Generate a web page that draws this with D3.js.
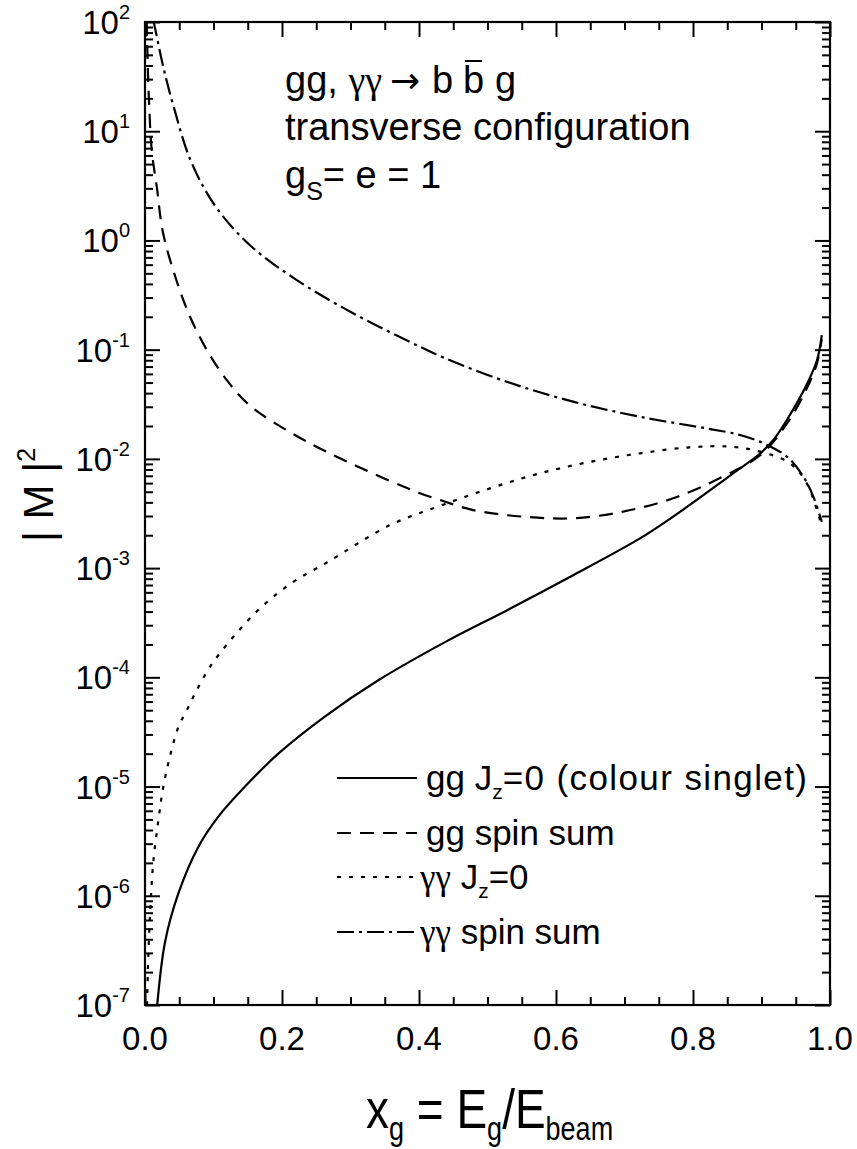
<!DOCTYPE html>
<html>
<head>
<meta charset="utf-8">
<script src="https://cdn.jsdelivr.net/npm/d3@7"></script>
<style>
  body { margin: 0; background: #fff; }
  text { font-family: "Liberation Sans", Arial, sans-serif; fill: #000; }
  .greek { font-family: "Liberation Serif", "DejaVu Serif", serif; }
  .arrow { font-family: "DejaVu Sans", sans-serif; }
</style>
</head>
<body>
<svg class="chart"></svg>
<script>
// |M|^2 against x_g (x, |M|^2)
var ggJz0 = [[0.0165, 8e-8], [0.029, 3.7e-7], [0.0487, 1.05e-6], [0.0778, 2.8e-6], [0.107, 5.3e-6],
             [0.146, 1.0e-5], [0.1946, 2.0e-5], [0.263, 4.4e-5], [0.3406, 9.4e-5], [0.438, 2.1e-4],
             [0.528, 4.1e-4], [0.625, 8.6e-4], [0.7226, 1.87e-3], [0.771, 2.96e-3], [0.82, 4.9e-3],
             [0.8589, 7.4e-3], [0.898, 0.0112], [0.9173, 0.0149], [0.937, 0.0227], [0.966, 0.048],
             [0.981, 0.08], [0.988, 0.136]]
var ggSum = [[0.0025, 100], [0.004, 40], [0.006, 18], [0.0098, 6.7], [0.0175, 3.0], [0.026, 1.2],
             [0.046, 0.43], [0.0666, 0.195], [0.09, 0.1], [0.12, 0.052], [0.1536, 0.0306],
             [0.2253, 0.0157], [0.307, 0.0087], [0.3994, 0.0049], [0.4307, 0.0042], [0.479, 0.0034],
             [0.552, 0.00296], [0.625, 0.00286], [0.698, 0.00329], [0.771, 0.00436], [0.844, 0.0069],
             [0.898, 0.0108], [0.937, 0.021], [0.966, 0.044], [0.981, 0.075], [0.988, 0.125]]
var aaJz0 = [[0.003, 1e-7], [0.005, 3e-7], [0.008, 8e-7], [0.012, 2e-6], [0.0195, 4.9e-6],
             [0.0268, 1e-5], [0.0365, 1.9e-5], [0.0487, 3.5e-5], [0.061, 5e-5], [0.073, 7.1e-5],
             [0.095, 1.25e-4], [0.129, 2.35e-4], [0.17, 4.4e-4], [0.214, 7.3e-4], [0.265, 1.12e-3],
             [0.358, 2.48e-3], [0.43, 3.7e-3], [0.5036, 5.37e-3], [0.5766, 7.38e-3], [0.65, 9.4e-3],
             [0.7226, 0.01125], [0.7956, 0.01277], [0.854, 0.01295], [0.898, 0.01164],
             [0.9416, 0.0091], [0.966, 0.006], [0.9854, 0.00275]]
var aaSum = [[0.012, 105], [0.0153, 84], [0.027, 38], [0.041, 17.5], [0.0666, 5.4], [0.1025, 2.07],
             [0.1536, 0.9], [0.22, 0.44], [0.307, 0.21], [0.389, 0.116], [0.435, 0.085],
             [0.528, 0.0509], [0.625, 0.0334], [0.7226, 0.0243], [0.82, 0.019], [0.8686, 0.01655],
             [0.9027, 0.0139], [0.937, 0.0105], [0.961, 0.0069], [0.9757, 0.0045], [0.988, 0.00266]]

var xMajor = [0, 0.2, 0.4, 0.6, 0.8, 1.0]
var xLabels = ["0.0", "0.2", "0.4", "0.6", "0.8", "1.0"]
var yDecades = [-7, -6, -5, -4, -3, -2, -1, 0, 1, 2]

var series = [
    {data: ggJz0, dash: null,        label: ["gg J", "z", "=0 (colour singlet)"]},
    {data: ggSum, dash: "14,9",      label: ["gg spin sum"]},
    {data: aaJz0, dash: "4,8",       label: ["γγ", " J", "z", "=0"]},
    {data: aaSum, dash: "17,5,3,5",  label: ["γγ", " spin sum"]}
]

var margin = {left: 145, top: 22, right: 27, bottom: 144}
var width = 857 - margin.left - margin.right
var height = 1149 - margin.top - margin.bottom

var x = d3.scaleLinear().domain([0, 1]).range([0, width])
var y = d3.scaleLog().domain([1e-7, 1e2]).range([height, 0])

var xMinor = d3.range(0, 21).map(function(i) { return i * 0.05 })
                .filter(function(v, i) { return i % 4 != 0 })
var yMinor = []
yDecades.slice(0, -1).forEach(function(d) {
    for (var k = 2; k <= 9; k++) yMinor.push(k * Math.pow(10, d))
})
var yMajor = yDecades.map(function(d) { return Math.pow(10, d) })

var svg = d3.select(".chart")
            .attr("width", 857)
            .attr("height", 1149)

var g = svg.append("g")
           .attr("transform", "translate(" + margin.left + "," + margin.top + ")")

svg.append("defs").append("clipPath").attr("id", "plot")
   .append("rect").attr("width", width).attr("height", height)

// inward ticks on all four sides
function tickAxis(axis, vals, len, tx) {
    g.append("g")
     .attr("transform", tx)
     .call(axis.tickValues(vals).tickSize(-len).tickSizeOuter(0).tickFormat(""))
     .call(function(a) { a.select(".domain").remove() })
     .selectAll("line").attr("stroke", "#000").attr("stroke-width", 2)
}
tickAxis(d3.axisBottom(x), xMajor, 15, "translate(0," + height + ")")
tickAxis(d3.axisBottom(x), xMinor, 8, "translate(0," + height + ")")
tickAxis(d3.axisTop(x), xMajor, 15, "translate(0,0)")
tickAxis(d3.axisTop(x), xMinor, 8, "translate(0,0)")
tickAxis(d3.axisLeft(y), yMajor, 15, "translate(0,0)")
tickAxis(d3.axisLeft(y), yMinor, 8, "translate(0,0)")
tickAxis(d3.axisRight(y), yMajor, 15, "translate(" + width + ",0)")
tickAxis(d3.axisRight(y), yMinor, 8, "translate(" + width + ",0)")

g.append("rect")
 .attr("width", width).attr("height", height)
 .attr("fill", "none").attr("stroke", "#000").attr("stroke-width", 2.2)

// tick labels
g.selectAll(".xlab").data(xMajor).enter().append("text")
 .attr("x", function(d) { return x(d) })
 .attr("y", height + 45)
 .attr("text-anchor", "middle")
 .style("font-size", "33px")
 .text(function(d, i) { return xLabels[i] })

var ylab = g.selectAll(".ylab").data(yDecades).enter().append("text")
            .attr("x", -15)
            .attr("y", function(d) { return y(Math.pow(10, d)) + 12 })
            .attr("text-anchor", "end")
            .style("font-size", "33px")
ylab.append("tspan").text("10")
ylab.append("tspan").attr("dy", -15).style("font-size", "20px").text(function(d) { return d })

// curves
var line = d3.line()
             .x(function(d) { return x(d[0]) })
             .y(function(d) { return y(d[1]) })
             .curve(d3.curveCatmullRom.alpha(0.5))

g.append("g").attr("clip-path", "url(#plot)")
 .selectAll("path").data(series).enter().append("path")
 .attr("d", function(s) { return line(s.data) })
 .attr("fill", "none")
 .attr("stroke", "#000")
 .attr("stroke-width", 2.2)
 .attr("stroke-dasharray", function(s) { return s.dash })

// legend
var legRows = [778, 833, 877, 932]
var leg = svg.append("g")
leg.selectAll("line").data(series).enter().append("line")
   .attr("x1", 337).attr("x2", 417)
   .attr("y1", function(s, i) { return legRows[i] })
   .attr("y2", function(s, i) { return legRows[i] })
   .attr("stroke", "#000").attr("stroke-width", 2.2)
   .attr("stroke-dasharray", function(s) { return s.dash })

function legText(i, parts, x0, spacing) {
    var t = leg.append("text").attr("x", x0).attr("y", legRows[i] + 12).style("font-size", "35px")
    var afterSub = false
    parts.forEach(function(p) {
        if (p == "z") {
            t.append("tspan").attr("dy", 9).style("font-size", "21px").text("z")
            afterSub = true
        } else if (p == "γγ") {
            t.append("tspan").attr("class", "greek").text("γγ")
        } else {
            var sp = t.append("tspan").text(p)
            if (afterSub) sp.attr("dy", -9).style("letter-spacing", spacing + "px")
            afterSub = false
        }
    })
}
legText(0, series[0].label, 426, 1.4)
legText(1, series[1].label, 426, 0)
legText(2, series[2].label, 420, 0)
legText(3, series[3].label, 420, 0)

// process annotation
var t1 = svg.append("text").attr("x", 285).attr("y", 93).style("font-size", "38px")
t1.append("tspan").text("gg, ")
t1.append("tspan").attr("class", "greek").text("γγ")
t1.append("tspan").attr("class", "arrow").attr("x", 390).style("font-size", "36px").text("→")
t1.append("tspan").attr("x", 432).text("b")
var bbar = t1.append("tspan").attr("x", 463).text("b")
t1.append("tspan").attr("x", 495).text("g")
var bb = bbar.node().getBBox()
svg.append("line")
   .attr("x1", bb.x + 2).attr("x2", bb.x + bb.width - 2)
   .attr("y1", 61).attr("y2", 61)
   .attr("stroke", "#000").attr("stroke-width", 2)

svg.append("text").attr("x", 285).attr("y", 140).style("font-size", "38px")
   .text("transverse configuration")

var t3 = svg.append("text").attr("x", 285).attr("y", 188).style("font-size", "38px")
t3.append("tspan").text("g")
t3.append("tspan").attr("dy", 12).style("font-size", "25px").text("S")
t3.append("tspan").attr("dy", -12).text("= e = 1")

// axis titles
var xt = svg.append("text")
            .attr("transform", "translate(366,1128) scale(1,1.2)")
            .style("font-size", "46px")
xt.append("tspan").text("x")
xt.append("tspan").attr("dy", 10).style("font-size", "27px").text("g")
xt.append("tspan").attr("dy", -10).text(" = E")
xt.append("tspan").attr("dy", 10).style("font-size", "27px").text("g")
xt.append("tspan").attr("dy", -10).text("/E")
xt.append("tspan").attr("dy", 10).style("font-size", "27px").text("beam")

var yt = svg.append("text")
            .attr("transform", "translate(53,542) rotate(-90)")
            .style("font-size", "42px")
yt.append("tspan").text("| M |")
yt.append("tspan").attr("dy", -18).style("font-size", "25px").text("2")
</script>
</body>
</html>
